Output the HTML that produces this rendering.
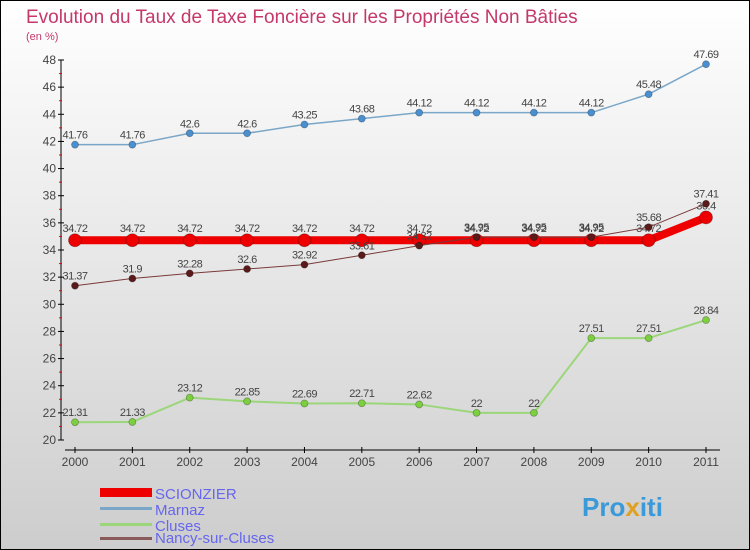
<!DOCTYPE html>
<html><head><meta charset="utf-8"><style>
body{margin:0;}
#c{width:750px;height:550px;position:relative;overflow:hidden;font-family:"Liberation Sans",sans-serif;}
</style></head><body>
<div id="c">
<svg id="s" width="750" height="550" xmlns="http://www.w3.org/2000/svg">
<defs><linearGradient id="bg" x1="0" y1="0" x2="0" y2="1"><stop offset="0" stop-color="#ffffff"/><stop offset="1" stop-color="#cdcdcd"/></linearGradient></defs>
<rect x="0.5" y="0.5" width="749" height="549" fill="url(#bg)" stroke="#000"/>
<text x="26" y="23" font-size="19" fill="#c4386a">Evolution du Taux de Taxe Foncière sur les Propriétés Non Bâties</text>
<text x="26" y="40" font-size="11" fill="#c4386a">(en %)</text>
<g id="axes"></g><g id="series"></g>
<g>
<rect x="100" y="488" width="52" height="9" fill="#e00"/>
<text x="155" y="499" font-size="15" fill="#6666ee">SCIONZIER</text>
<rect x="100" y="507" width="52" height="3" fill="#7aa6c8"/>
<text x="155" y="515" font-size="15" fill="#6666ee">Marnaz</text>
<rect x="100" y="523" width="52" height="3" fill="#9cd67a"/>
<text x="155" y="531" font-size="15" fill="#6666ee">Cluses</text>
<rect x="100" y="537" width="52" height="3" fill="#8a5a5a"/>
<text x="155" y="543" font-size="15" fill="#6666ee">Nancy-sur-Cluses</text>
</g>
<text x="582" y="516" font-size="26" font-weight="bold" fill="#3a9ad9">Pro<tspan fill="#e0a020">x</tspan>iti</text>
</svg>
</div>
<script>
const years=[2000,2001,2002,2003,2004,2005,2006,2007,2008,2009,2010,2011];
const yTicks=[20,22,24,26,28,30,32,34,36,38,40,42,44,46,48];
const scionzier=[34.72,34.72,34.72,34.72,34.72,34.72,34.72,34.72,34.72,34.72,34.72,36.4];
const marnaz=[41.76,41.76,42.6,42.6,43.25,43.68,44.12,44.12,44.12,44.12,45.48,47.69];
const cluses=[21.31,21.33,23.12,22.85,22.69,22.71,22.62,22,22,27.51,27.51,28.84];
const nancy=[31.37,31.9,32.28,32.6,32.92,33.61,34.32,34.95,34.95,34.95,35.68,37.41];
const scLabels=["34.72","34.72","34.72","34.72","34.72","34.72","34.72","34.72","34.72","34.72","34.72","36.4"];
const maLabels=["41.76","41.76","42.6","42.6","43.25","43.68","44.12","44.12","44.12","44.12","45.48","47.69"];
const clLabels=["21.31","21.33","23.12","22.85","22.69","22.71","22.62","22","22","27.51","27.51","28.84"];
const naLabels=["31.37","31.9","32.28","32.6","32.92","33.61","34.32","34.95","34.95","34.95","35.68","37.41"];
const NS="http://www.w3.org/2000/svg";
const X=i=>75+i*(706-75)/11;
const Y=v=>440-(v-20)*(380/28);
function mk(t,a,p){const e=document.createElementNS(NS,t);for(const k in a)e.setAttribute(k,a[k]);p.appendChild(e);return e;}
const ax=document.getElementById('axes');
let l=mk('line',{x1:61,y1:Y(48),x2:61,y2:Y(20),stroke:'#000'},ax);


l=mk('line',{x1:65,y1:450,x2:720,y2:450,stroke:'#000'},ax);


yTicks.forEach(v=>{
 mk('line',{x1:58,y1:Y(v),x2:64,y2:Y(v),stroke:'#000'},ax);
 if(v<48)mk('line',{x1:59,y1:Y(v+1),x2:62,y2:Y(v+1),stroke:'#e00'},ax);
 const t=mk('text',{x:56,y:Y(v)+4,'font-size':12,fill:'#444','text-anchor':'end'},ax);t.textContent=v;
 
 
});
years.forEach((y,i)=>{
 mk('line',{x1:X(i),y1:447,x2:X(i),y2:453,stroke:'#000'},ax);
 const t=mk('text',{x:X(i),y:466,'font-size':12,fill:'#444','text-anchor':'middle'},ax);t.textContent=y;
 
 
});
const sg=document.getElementById('series');
function series(vals,labels,color,width,r,ptFill,name,off){
 const g=mk('g',{},sg);
 
 
 mk('polyline',{points:vals.map((v,i)=>X(i)+','+Y(v)).join(' '),fill:'none',stroke:color,'stroke-width':width,'stroke-linejoin':'round'},g);
 vals.forEach((v,i)=>{
  const c=mk('circle',{cx:X(i),cy:Y(v),r:r,fill:ptFill,stroke:'rgba(0,0,0,0.3)','stroke-width':0.8},g);
  
  
  const t=mk('text',{x:X(i),y:Y(v)+off,'font-size':11,fill:'#444','text-anchor':'middle','letter-spacing':'-0.5'},g);t.textContent=labels[i];
  
  
 });
}
series(marnaz,maLabels,'#7aa6c8',1.5,3.5,'#4a90d0','marnaz',-6);
series(cluses,clLabels,'#9cd67a',2,3.5,'#7cd040','cluses',-6);
series(scionzier,scLabels,'#ee0000',8,6.5,'#ee0000','scionzier',-8);
series(nancy,naLabels,'#7a3a3a',1,3.5,'#5a1a1a','nancy',-6);
</script>
</body></html>
